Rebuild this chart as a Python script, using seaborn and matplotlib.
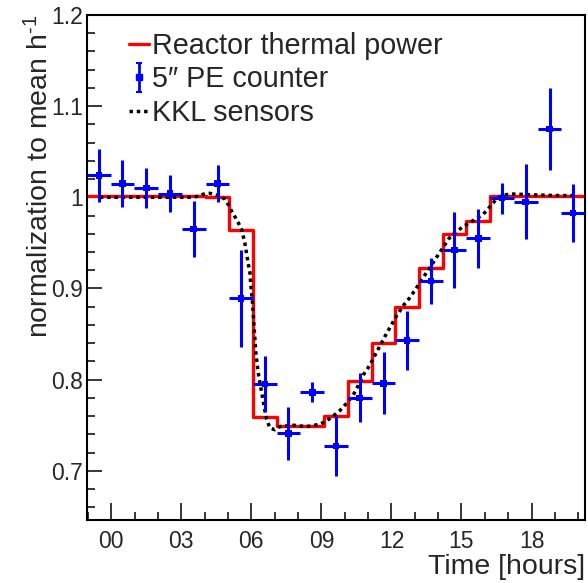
import matplotlib
matplotlib.use("Agg")
import matplotlib.pyplot as plt
import seaborn as sns
import pandas as pd
from matplotlib.ticker import MultipleLocator, FuncFormatter
from matplotlib.lines import Line2D

# ---------------- data ----------------
bin_edges_h = [-1.04, -0.02, 0.99, 2.01, 3.02, 4.04, 5.06, 6.07, 7.09, 8.10, 9.12,
               10.13, 11.15, 12.17, 13.18, 14.20, 15.21, 16.23, 17.24, 18.26, 19.28, 20.29]
reactor_power = [1.001, 1.001, 1.001, 1.001, 1.001, 1.000, 0.964, 0.759, 0.749, 0.749,
                 0.760, 0.799, 0.840, 0.880, 0.922, 0.960, 0.974, 1.001, 1.001, 1.001, 1.001]

pe_time_h = [-0.53, 0.48, 1.50, 2.51, 3.53, 4.55, 5.56, 6.58, 7.59, 8.61, 9.63,
             10.64, 11.66, 12.67, 13.69, 14.70, 15.72, 16.73, 17.75, 18.77, 19.78]
pe_rate = [1.024, 1.015, 1.010, 1.004, 0.965, 1.015, 0.889, 0.795, 0.741, 0.786, 0.727,
           0.780, 0.796, 0.843, 0.908, 0.942, 0.955, 0.999, 0.995, 1.075, 0.983]
pe_err = [0.029, 0.026, 0.022, 0.020, 0.031, 0.020, 0.053, 0.031, 0.029, 0.011, 0.033,
          0.027, 0.034, 0.032, 0.025, 0.042, 0.032, 0.017, 0.041, 0.045, 0.032]
pe_half_bin = 0.508

kkl_time_h = [-0.49, 1.65, 3.51, 3.72, 4.01, 4.22, 4.44, 4.65, 4.87, 5.01, 5.15, 5.29, 5.44,
              5.58, 5.72, 5.79, 5.86, 5.94, 5.97, 6.01, 6.05, 6.08, 6.11, 6.19, 6.29, 6.44,
              6.58, 6.65, 6.79, 7.01, 7.22, 7.79, 8.36, 8.93, 9.22, 9.50, 9.79, 10.08, 10.36,
              10.65, 10.79, 11.08, 11.36, 11.65, 11.93, 12.22, 12.50, 12.79, 13.08, 13.36,
              13.65, 13.93, 14.21, 14.47, 14.72, 15.10, 15.36, 15.62, 15.86, 16.07, 16.24,
              16.43, 16.64, 16.93, 17.21, 17.79, 18.36, 18.93, 19.50, 19.77]
kkl_value = [1.000, 1.000, 1.000, 1.0014, 1.004, 1.0044, 1.003, 1.0014, 0.998, 0.992, 0.985,
             0.979, 0.972, 0.965, 0.950, 0.939, 0.928, 0.917, 0.906, 0.895, 0.884, 0.873,
             0.860, 0.830, 0.808, 0.786, 0.766, 0.757, 0.747, 0.745, 0.7485, 0.750, 0.7485,
             0.751, 0.7547, 0.760, 0.766, 0.774, 0.783, 0.797, 0.805, 0.816, 0.830, 0.844,
             0.857, 0.870, 0.881, 0.890, 0.901, 0.912, 0.923, 0.934, 0.945, 0.955, 0.961,
             0.9685, 0.972, 0.9766, 0.980, 0.985, 0.9905, 0.996, 1.0008, 1.003, 1.0036,
             1.003, 1.0025, 1.002, 1.0019, 1.0019]

x_major_ticks = [0, 3, 6, 9, 12, 15, 18]
y_major_ticks = [0.7, 0.8, 0.9, 1.0, 1.1, 1.2]
y_tick_labels = ["0.7", "0.8", "0.9", "1", "1.1", "1.2"]

legend_labels = ["Reactor thermal power", "5\u2033 PE counter", "KKL sensors"]
x_label = "Time [hours]"
y_label = "normalization to mean h$^{\\text{-}1}$"

# ---------------- style ----------------
sns.set_style("ticks")
plt.rcParams["font.family"] = ["Liberation Sans", "DejaVu Sans"]
plt.rcParams["mathtext.fontset"] = "custom"
plt.rcParams["mathtext.rm"] = "Liberation Sans"
plt.rcParams["mathtext.it"] = "Liberation Sans:italic"
plt.rcParams["mathtext.default"] = "regular"

W, H = 588, 583
fig = plt.figure(figsize=(W / 100, H / 100), dpi=100)
ax_l, ax_r, ax_t, ax_b = 87, 585, 15, 520
ax = fig.add_axes([ax_l / W, 1 - ax_b / H, (ax_r - ax_l) / W, (ax_b - ax_t) / H])

# reactor step histogram
step_df = pd.DataFrame({"t": bin_edges_h, "v": reactor_power + [reactor_power[-1]]})
sns.lineplot(data=step_df, x="t", y="v", ax=ax, color="#ff0000", lw=2.4,
             drawstyle="steps-post", estimator=None, sort=False, zorder=2)

# KKL sensors dotted line
kkl_df = pd.DataFrame({"t": kkl_time_h, "v": kkl_value})
sns.lineplot(data=kkl_df, x="t", y="v", ax=ax, color="black", lw=2.5,
             linestyle=(0, (1, 1.1)), estimator=None, sort=False, zorder=3)

# PE counter data points with error bars
pe_df = pd.DataFrame({"t": pe_time_h, "v": pe_rate, "e": pe_err})
ax.errorbar(pe_df["t"], pe_df["v"], yerr=pe_df["e"], xerr=pe_half_bin, fmt="none",
            ecolor="#0000ff", elinewidth=2.2, capsize=0, zorder=4)
sns.scatterplot(data=pe_df, x="t", y="v", ax=ax, color="#0000ff", marker="s", s=22,
                edgecolor="none", zorder=5)

ax.set_xlim(bin_edges_h[0], bin_edges_h[-1])
ax.set_ylim(0.646, 1.2)

ax.xaxis.set_major_locator(plt.FixedLocator(x_major_ticks))
ax.xaxis.set_minor_locator(MultipleLocator(1))
ax.xaxis.set_major_formatter(FuncFormatter(lambda v, p: f"{int(round(v)):02d}"))
ax.yaxis.set_major_locator(plt.FixedLocator(y_major_ticks))
ax.yaxis.set_major_formatter(plt.FixedFormatter(y_tick_labels))
ax.yaxis.set_minor_locator(MultipleLocator(0.02))

ax.tick_params(axis="both", which="both", direction="in", top=False, right=False,
               color="black", width=1.1)
ax.tick_params(axis="x", which="major", length=12, labelsize=16.5, pad=7)
ax.tick_params(axis="x", which="minor", length=6)
ax.tick_params(axis="y", which="major", length=11, labelsize=16.5, pad=3)
ax.tick_params(axis="y", which="minor", length=5.5)
for s in ax.spines.values():
    s.set_linewidth(1.5)
    s.set_color("black")

ax.set_xlabel(x_label, fontsize=20.5, loc="right")
ax.xaxis.set_label_coords(1.0, -0.068)
ax.set_ylabel(y_label, fontsize=20.5, loc="top")
ax.yaxis.set_label_coords(-0.066, 1.0)

# legend
h_red = Line2D([], [], color="#ff0000", lw=2.4)
h_pe = ax.errorbar([-50], [-50], yerr=[1], fmt="s", color="#0000ff", ms=4, lw=2,
                   capsize=2.5, capthick=1.5)
h_kkl = Line2D([], [], color="black", lw=2.5, linestyle=(0, (1, 1.1)))
ax.legend([h_red, h_pe, h_kkl], legend_labels, loc="upper left",
          bbox_to_anchor=(0.085, 0.967), frameon=False, fontsize=20.7,
          handlelength=0.7, handletextpad=0.08, labelspacing=0.2, borderpad=0,
          borderaxespad=0)

fig.savefig("out.png", dpi=100)
